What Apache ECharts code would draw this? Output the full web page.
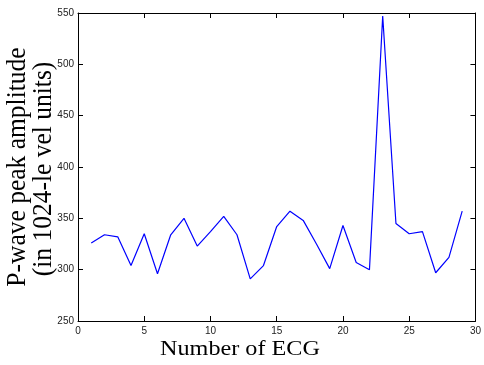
<!doctype html>
<html>
<head>
<meta charset="utf-8">
<script src="https://cdn.jsdelivr.net/npm/echarts@6/dist/echarts.min.js"></script>
<style>
  html, body { margin: 0; padding: 0; background: #fff; }
  #chart { width: 484px; height: 365px; }
</style>
</head>
<body>
<div id="chart"></div>
<script>
// ECG index and P-wave peak amplitude
const ecgNumbers = [1, 2, 3, 4, 5, 6, 7, 8, 9, 10, 11, 12, 13, 14, 15, 16, 17, 18, 19, 20, 21, 22, 23, 24, 25, 26, 27, 28, 29];
const amplitudes = [326, 334, 332, 304, 335, 296, 334, 350, 323, 337, 352, 334, 291, 304, 342, 357, 348, 325, 301, 343, 307, 300, 547, 345, 335, 337, 297, 312, 357];
const xTicks = [0, 5, 10, 15, 20, 25, 30];
const yTicks = [250, 300, 350, 400, 450, 500, 550];

const chart = echarts.init(document.getElementById('chart'));

const tickFont = { color: '#222', fontSize: 10, fontFamily: 'Liberation Sans Narrow, Liberation Sans, Arial, sans-serif' };
const frameLine = { show: true, onZero: false, lineStyle: { color: '#000', width: 1 } };
const innerTick = { show: true, inside: true, length: 5, lineStyle: { color: '#000', width: 1 } };
const serif = 'Liberation Serif, Times New Roman, serif';

chart.setOption({
  animation: false,
  backgroundColor: '#fff',
  grid: { left: 78, right: 2, top: 13, bottom: 44 },
  xAxis: [
    {
      type: 'value', min: xTicks[0], max: xTicks[xTicks.length - 1], interval: 5,
      position: 'bottom',
      axisLine: frameLine, axisTick: innerTick,
      axisLabel: Object.assign({ margin: 5 }, tickFont),
      splitLine: { show: false }
    },
    {
      type: 'value', min: xTicks[0], max: xTicks[xTicks.length - 1], interval: 5,
      position: 'top',
      axisLine: frameLine, axisTick: innerTick,
      axisLabel: { show: false }, splitLine: { show: false }
    }
  ],
  yAxis: [
    {
      type: 'value', min: yTicks[0], max: yTicks[yTicks.length - 1], interval: 50,
      position: 'left',
      axisLine: frameLine, axisTick: innerTick,
      axisLabel: Object.assign({ margin: 4 }, tickFont),
      splitLine: { show: false }
    },
    {
      type: 'value', min: yTicks[0], max: yTicks[yTicks.length - 1], interval: 50,
      position: 'right',
      axisLine: frameLine, axisTick: innerTick,
      axisLabel: { show: false }, splitLine: { show: false }
    }
  ],
  series: [{
    type: 'line',
    data: ecgNumbers.map((n, i) => [n, amplitudes[i]]),
    showSymbol: false,
    lineStyle: { color: '#0000ff', width: 1.2 }
  }],
  graphic: [
    {
      type: 'text', x: 240, y: 349, scaleX: 1.1,
      style: {
        text: 'Number of ECG', textAlign: 'center', textVerticalAlign: 'middle',
        fontFamily: serif, fontSize: 22, fill: '#000'
      }
    },
    {
      type: 'text', x: 18, y: 167, rotation: Math.PI / 2, scaleY: 1.1,
      style: {
        text: 'P-wave peak amplitude', textAlign: 'center', textVerticalAlign: 'middle',
        fontFamily: serif, fontSize: 25.5, fill: '#000'
      }
    },
    {
      type: 'text', x: 44, y: 169, rotation: Math.PI / 2, scaleY: 1.1,
      style: {
        text: '(in 1024-le vel units)', textAlign: 'center', textVerticalAlign: 'middle',
        fontFamily: serif, fontSize: 25.5, fill: '#000'
      }
    }
  ]
});
</script>
</body>
</html>
